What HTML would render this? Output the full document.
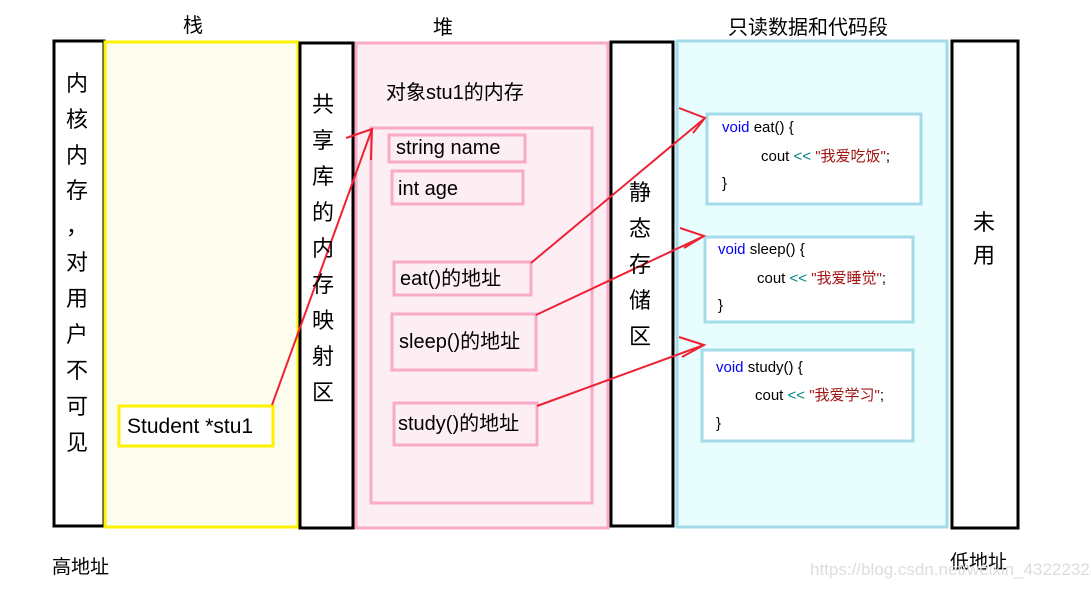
<!DOCTYPE html>
<html><head><meta charset="utf-8"><style>
body{margin:0;background:#fff;width:1091px;height:586px;overflow:hidden}
svg text{font-family:"Liberation Sans","Noto Sans CJK SC",sans-serif}
</style></head><body>
<svg width="1091" height="586" xmlns="http://www.w3.org/2000/svg">
<g fill="none" stroke-width="3">
<rect x="54" y="41" width="50" height="485" fill="#fff" stroke="#000"/>
<rect x="105" y="42" width="193" height="485" fill="#fdfded" stroke="#fff200"/>
<rect x="300" y="43" width="53" height="485" fill="#fff" stroke="#000"/>
<rect x="356" y="43" width="252" height="485" fill="#fdeef4" stroke="#f9aac8"/>
<rect x="611" y="42" width="62" height="484" fill="#fff" stroke="#000"/>
<rect x="677" y="41" width="270" height="486" fill="#e8fefe" stroke="#a3dbe9"/>
<rect x="952" y="41" width="66" height="487" fill="#fff" stroke="#000"/>
<rect x="371" y="128" width="221" height="375" stroke="#f9aac8"/>
<rect x="389" y="135" width="136" height="27" stroke="#f9aac8"/>
<rect x="392" y="171" width="131" height="33" stroke="#f9aac8"/>
<rect x="394" y="262" width="137" height="33" stroke="#f9aac8"/>
<rect x="392" y="314" width="144" height="56" stroke="#f9aac8"/>
<rect x="394" y="403" width="143" height="42" stroke="#f9aac8"/>
<rect x="119" y="406" width="154" height="40" fill="#fff" stroke="#fff200"/>
<rect x="707" y="114" width="214" height="90" fill="#fff" stroke="#a3dbe9"/>
<rect x="705" y="237" width="208" height="85" fill="#fff" stroke="#a3dbe9"/>
<rect x="702" y="350" width="211" height="91" fill="#fff" stroke="#a3dbe9"/>
</g>
<g stroke="#ee2233" stroke-width="2" fill="none">
<path d="M272 405 L372 129 M346 138 L372 129 L371 160"/>
<path d="M531 263 L705 118 M679 108 L705 118 L693 133"/>
<path d="M536 315 L704 236 M680 228 L704 236 L684 248"/>
<path d="M537 406 L704 345 M679 337 L704 345 L682 357"/>
</g>
<g font-size="20" fill="#000">
<text x="183" y="32">栈</text>
<text x="433" y="34">堆</text>
<text x="728" y="34">只读数据和代码段</text>
<text x="52" y="573" font-size="19">高地址</text>
<text x="950" y="568" font-size="19">低地址</text>
</g>
<text x="810" y="575" font-size="17" fill="#ddd" font-family="Liberation Sans">https://blog.csdn.net/weixin_43222324</text>
<g font-size="22" text-anchor="middle">
<text x="77" y="91">内</text><text x="77" y="127">核</text><text x="77" y="163">内</text><text x="77" y="198">存</text><text x="77" y="234">，</text><text x="77" y="270">对</text><text x="77" y="306">用</text><text x="77" y="342">户</text><text x="77" y="378">不</text><text x="77" y="414">可</text><text x="77" y="450">见</text>
<text x="323" y="112">共</text><text x="323" y="148">享</text><text x="323" y="184">库</text><text x="323" y="220">的</text><text x="323" y="256">内</text><text x="323" y="292">存</text><text x="323" y="328">映</text><text x="323" y="364">射</text><text x="323" y="400">区</text>
<text x="640" y="200">静</text><text x="640" y="236">态</text><text x="640" y="272">存</text><text x="640" y="308">储</text><text x="640" y="344">区</text>
<text x="984" y="230">未</text><text x="984" y="263">用</text>
</g>
<g font-size="20" fill="#000">
<text x="386" y="99">对象stu1的内存</text>
<text x="396" y="154">string name</text>
<text x="398" y="195">int age</text>
<text x="400" y="285">eat()的地址</text>
<text x="399" y="348">sleep()的地址</text>
<text x="398" y="430">study()的地址</text>
<text x="127" y="433" font-size="21">Student *stu1</text>
</g>
<g font-size="15">
<text x="722" y="132"><tspan fill="#0000ff">void</tspan> eat() {</text>
<text x="761" y="161">cout <tspan fill="#008080">&lt;&lt;</tspan> <tspan fill="#a31515">"我爱吃饭"</tspan>;</text>
<text x="722" y="188">}</text>
<text x="718" y="254"><tspan fill="#0000ff">void</tspan> sleep() {</text>
<text x="757" y="283">cout <tspan fill="#008080">&lt;&lt;</tspan> <tspan fill="#a31515">"我爱睡觉"</tspan>;</text>
<text x="718" y="310">}</text>
<text x="716" y="372"><tspan fill="#0000ff">void</tspan> study() {</text>
<text x="755" y="400">cout <tspan fill="#008080">&lt;&lt;</tspan> <tspan fill="#a31515">"我爱学习"</tspan>;</text>
<text x="716" y="428">}</text>
</g>
</svg>
</body></html>
